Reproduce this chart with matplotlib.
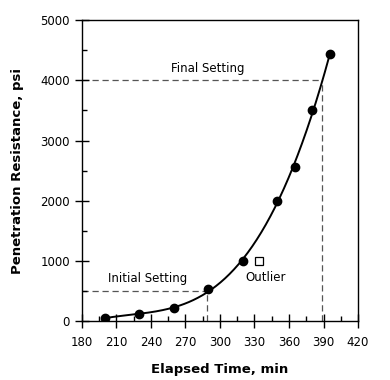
import numpy as np
import matplotlib
matplotlib.use("Agg")
import matplotlib.pyplot as plt
from matplotlib.ticker import MultipleLocator

time_min = [200, 230, 260, 290, 320, 350, 365, 380, 396]
resistance_psi = [55, 110, 215, 540, 1000, 2000, 2555, 3515, 4445]
outlier_time = [334]
outlier_psi = [1000]
initial_setting = (289, 500)
final_setting = (389, 4000)
x_ticks = [180, 210, 240, 270, 300, 330, 360, 390, 420]
y_ticks = [0, 1000, 2000, 3000, 4000, 5000]

plt.rcParams['font.family'] = ['DejaVu Sans']
fig = plt.figure(figsize=(3.9, 3.8), dpi=100)
ax = fig.add_axes([0.21, 0.155, 0.708, 0.792])

# smooth fitted curve through data
coef = np.polyfit(time_min, resistance_psi, 3)
xs = np.linspace(time_min[0], time_min[-1], 200)
ax.plot(xs, np.polyval(coef, xs), color='black', lw=1.4, zorder=2)

ax.plot(time_min, resistance_psi, 'o', color='black', ms=6, zorder=3)
ax.plot(outlier_time, outlier_psi, 's', mfc='white', mec='black', mew=0.9, ms=6, zorder=3)

dash = dict(color='#555555', lw=0.9, ls=(0, (5, 3)), zorder=1)
ax.plot([180, initial_setting[0]], [initial_setting[1]] * 2, **dash)
ax.plot([initial_setting[0]] * 2, [0, initial_setting[1]], **dash)
ax.plot([180, final_setting[0]], [final_setting[1]] * 2, **dash)
ax.plot([final_setting[0]] * 2, [0, final_setting[1]], **dash)

ax.text(289, 4200, 'Final Setting', ha='center', va='center', fontsize=8.5)
ax.text(237, 700, 'Initial Setting', ha='center', va='center', fontsize=8.5)
ax.text(340, 730, 'Outlier', ha='center', va='center', fontsize=8.5)

ax.set_xlim(180, 420)
ax.set_ylim(0, 5000)
ax.set_xticks(x_ticks)
ax.set_yticks(y_ticks)
ax.xaxis.set_minor_locator(MultipleLocator(15))
ax.yaxis.set_minor_locator(MultipleLocator(500))
ax.tick_params(which='major', direction='inout', length=10, width=1, labelsize=8.5)
ax.tick_params(axis='x', which='major', pad=6)
ax.tick_params(which='minor', direction='in', length=3.5, width=1)
for s in ax.spines.values():
    s.set_linewidth(1)

ax.set_xlabel('Elapsed Time, min', fontsize=9.5, fontweight='bold', labelpad=10)
ax.set_ylabel('Penetration Resistance, psi', fontsize=9.5, fontweight='bold', labelpad=12)

fig.savefig('out.png', dpi=100)
